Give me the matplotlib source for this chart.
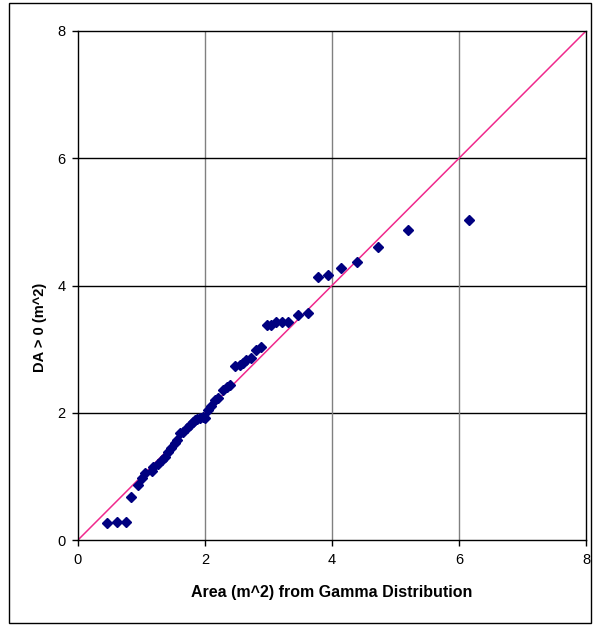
import matplotlib
matplotlib.use("Agg")
import matplotlib.pyplot as plt
from matplotlib.patches import Rectangle

plt.rcParams["font.family"] = ["Liberation Sans", "DejaVu Sans"]

# sorted gamma quantiles vs observed areas (DA > 0)
gamma_area = [0.45, 0.62, 0.76, 0.84, 0.95, 1.00, 1.05, 1.16, 1.18, 1.26,
              1.32, 1.37, 1.42, 1.47, 1.53, 1.56, 1.60, 1.66, 1.71, 1.76,
              1.81, 1.84, 1.87, 1.92, 1.97, 2.00, 2.05, 2.10, 2.15, 2.21,
              2.29, 2.34, 2.39, 2.47, 2.55, 2.60, 2.65, 2.73, 2.81, 2.88,
              2.97, 3.04, 3.12, 3.21, 3.30, 3.46, 3.62, 3.78, 3.94, 4.14,
              4.39, 4.72, 5.19, 6.15]
da_area = [0.27, 0.28, 0.28, 0.68, 0.87, 0.97, 1.05, 1.09, 1.15, 1.20,
           1.26, 1.31, 1.39, 1.44, 1.52, 1.57, 1.68, 1.70, 1.76, 1.81,
           1.86, 1.89, 1.90, 1.91, 1.94, 1.91, 2.04, 2.10, 2.20, 2.23,
           2.36, 2.41, 2.44, 2.73, 2.75, 2.78, 2.83, 2.86, 2.99, 3.04,
           3.38, 3.38, 3.42, 3.43, 3.43, 3.54, 3.56, 4.14, 4.17, 4.28,
           4.37, 4.61, 4.87, 5.03]
line_xy = [0, 8]
ticks = [0, 2, 4, 6, 8]

fig = plt.figure(figsize=(5.96, 6.25), dpi=100)
fig.patches.append(Rectangle((9 / 596, 2 / 625), 582 / 596, 620 / 625,
                             transform=fig.transFigure, fill=False,
                             ec="black", lw=1))
ax = fig.add_axes([78 / 596, 85 / 625, 508 / 596, 509 / 625])

for t in ticks[1:-1]:
    ax.axvline(t, color="#808080", lw=1, zorder=1)
    ax.axhline(t, color="black", lw=1, zorder=1)

ax.plot(line_xy, line_xy, color="#F0288C", lw=1.1, zorder=2)
ax.plot(gamma_area, da_area, ls="none", marker="D", ms=4.6,
        color="#000080", zorder=3)

ax.set_xlim(0, 8); ax.set_ylim(0, 8)
ax.set_xticks(ticks); ax.set_yticks(ticks)
ax.tick_params(direction="out", length=4, width=1, labelsize=10.5, pad=5)
for s in ax.spines.values():
    s.set_linewidth(1)
ax.set_xlabel("Area (m^2) from Gamma Distribution", fontsize=11.5,
              fontweight="bold", labelpad=13)
ax.set_ylabel("DA > 0 (m^2)", fontsize=10.5, fontweight="bold")
ax.yaxis.set_label_coords(-0.062, 0.418)

fig.savefig("out.png", dpi=100)
